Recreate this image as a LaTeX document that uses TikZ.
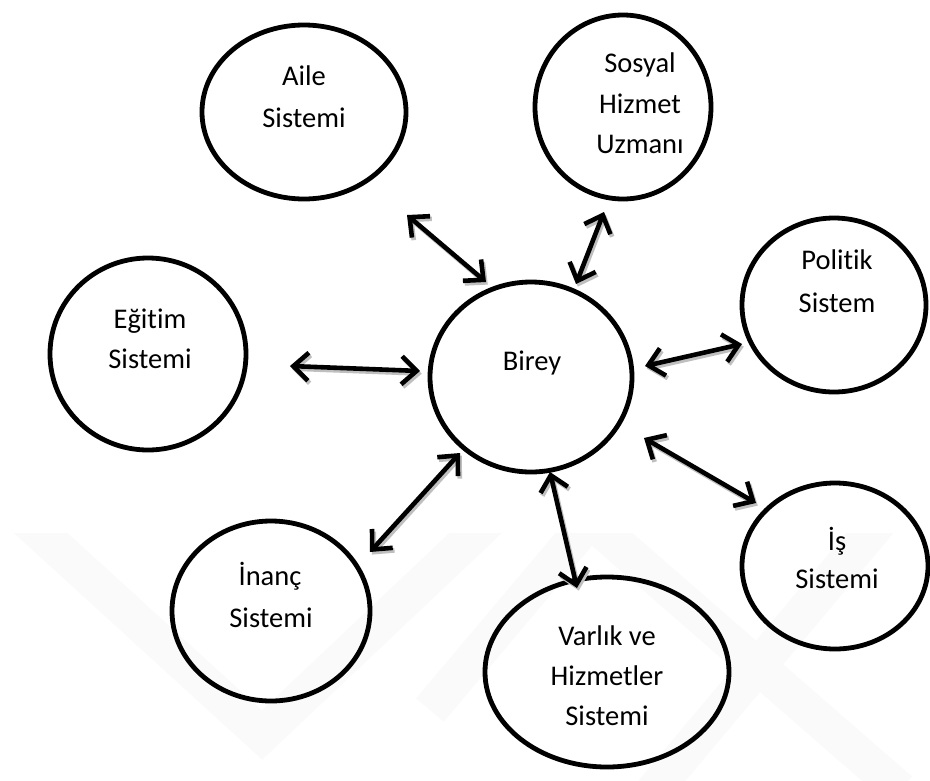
\documentclass[tikz,border=0pt]{standalone}
\usepackage{fontspec}
\setmainfont[Ligatures=NoCommon]{Carlito}
\usetikzlibrary{shapes.geometric,arrows.meta}
\begin{document}
\begin{tikzpicture}[x=1pt,y=-1pt,
  circ/.style={ellipse,draw=black,line width=4.8,inner sep=0},
  lbl/.style={anchor=base,inner sep=0,font=\fontsize{28.5}{34}\selectfont},
  arr/.style={line width=4.6,line cap=butt,{Straight Barb[length=15,width=28]}-{Straight Barb[length=15,width=28]}},
  arrshadow/.style={arr,draw=gray!50,transform canvas={shift={(1.8pt,-2.6pt)}}},
  wm/.style={line width=36,draw=gray!4,line join=miter}]
\useasboundingbox[fill=white] (0,0) rectangle (930,780);

% faint watermark
\begin{scope}
\clip (0,533) rectangle (930,780);
\draw[wm] (10,505) -- (262,735) -- (500,510);
\draw[wm] (430,710) -- (590,520) -- (900,790);
\draw[wm] (885,515) -- (650,795);
\end{scope}

% ellipses
\node[circ,minimum width=204,minimum height=174] (aile) at (304,112) {};
\node[circ,minimum width=176,minimum height=184] (sosyal) at (623,107) {};
\node[circ,minimum width=184,minimum height=174] (politik) at (834,305) {};
\node[circ,minimum width=196,minimum height=192] (egitim) at (148,354) {};
\node[circ,minimum width=202,minimum height=190] (birey) at (531,377) {};
\node[circ,minimum width=198,minimum height=180] (inanc) at (271,611) {};
\node[circ,minimum width=244,minimum height=190] (varlik) at (607,672) {};
\node[circ,minimum width=186,minimum height=166] (is) at (835,566) {};

% labels
\node[lbl] (aileA) at (304,85) {Aile};
\node[lbl] (aileB) at (304,127) {Sistemi};
\node[lbl] (sosyalA) at (640,72) {Sosyal};
\node[lbl] (sosyalB) at (640,113) {Hizmet};
\node[lbl] (sosyalC) at (640,153) {Uzmanı};
\node[lbl] (politikA) at (837,269) {Politik};
\node[lbl] (politikB) at (837,312) {Sistem};
\node[lbl] (egitimA) at (150,328) {Eğitim};
\node[lbl] (egitimB) at (150,368) {Sistemi};
\node[lbl] (bireyA) at (532,370) {Birey};
\node[lbl] (inancA) at (270,585) {İnanç};
\node[lbl] (inancB) at (271,627) {Sistemi};
\node[lbl] (varlikA) at (607,645) {Varlık ve};
\node[lbl] (varlikB) at (607,685) {Hizmetler};
\node[lbl] (varlikC) at (607,725) {Sistemi};
\node[lbl] (isA) at (837,550) {İş};
\node[lbl] (isB) at (837,588) {Sistemi};

% arrow end points
\coordinate (e1) at (290,366); \coordinate (e2) at (420,371);
\coordinate (a1) at (407,215); \coordinate (a2) at (486,282);
\coordinate (s1) at (604,212); \coordinate (s2) at (576,284);
\coordinate (p1) at (645,366); \coordinate (p2) at (742,344);
\coordinate (i1) at (644,438); \coordinate (i2) at (756,503);
\coordinate (v1) at (550,472); \coordinate (v2) at (577,588);
\coordinate (n1) at (460,453); \coordinate (n2) at (370,552);

% shadows
\foreach \u/\w in {e1/e2,a1/a2,s1/s2,p1/p2,i1/i2,v1/v2,n1/n2}
  \draw[arrshadow] (\u) -- (\w);
% arrows
\foreach \u/\w in {e1/e2,a1/a2,s1/s2,p1/p2,i1/i2,v1/v2,n1/n2}
  \draw[arr] (\u) -- (\w);
\end{tikzpicture}
\end{document}
